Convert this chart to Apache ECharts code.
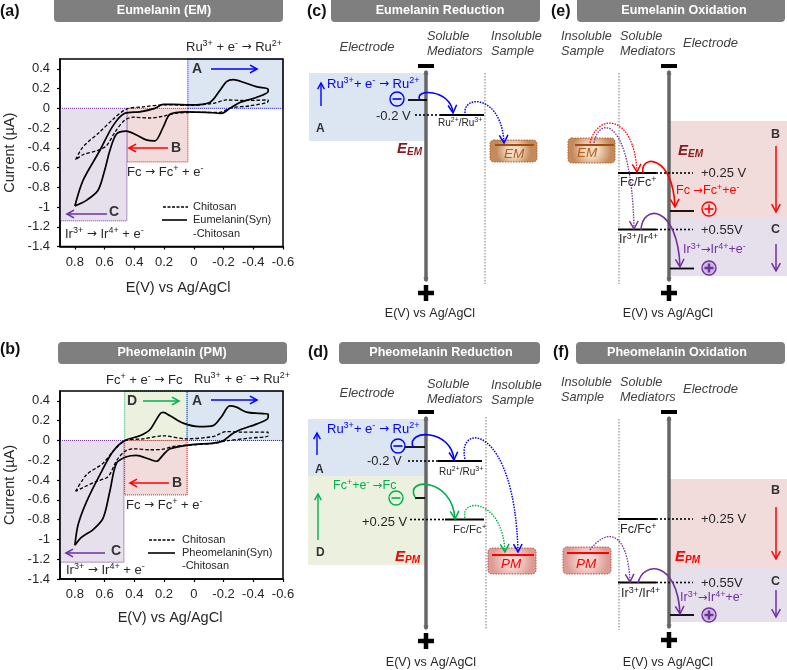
<!DOCTYPE html>
<html>
<head>
<meta charset="utf-8">
<style>html,body{margin:0;padding:0;background:#fff}#c{width:787px;height:670px}</style>
<script src="https://cdn.jsdelivr.net/npm/echarts@6/dist/echarts.min.js"></script>
</head>
<body>
<div id="c"></div>
<script>
// ---------- data: cyclic voltammograms, [E (V), current (uA)] ----------
const xTicks = [0.8, 0.6, 0.4, 0.2, 0, -0.2, -0.4, -0.6];
const yTicks = [0.4, 0.2, 0, -0.2, -0.4, -0.6, -0.8, -1, -1.2, -1.4];

const eumelaninSolid = [[.8,-.99],[.745,-.73],[.633,-.43],[.543,-.175],[.464,-.05],[.363,-.035],[.262,0],[.206,.04],[.14,.04],[.027,.035],[-.108,.06],[-.175,.18],[-.22,.27],[-.265,.29],[-.332,.265],[-.42,.22],[-.5,.195],[-.5,.17],[-.42,.11],[-.31,.06],[-.242,0],[-.186,-.05],[-.085,-.04],[.05,-.035],[.16,-.06],[.206,-.19],[.262,-.33],[.32,-.32],[.386,-.27],[.453,-.23],[.52,-.26],[.565,-.43],[.6,-.63],[.644,-.83],[.72,-.93],[.8,-.99]];
const eumelaninChitosan = [[.795,-.52],[.745,-.39],[.633,-.24],[.543,-.11],[.453,-.007],[.34,.015],[.206,.035],[.14,.035],[.027,.03],[-.13,.05],[-.22,.085],[-.33,.08],[-.5,.085],[-.5,.07],[-.377,.025],[-.265,.01],[-.22,-.015],[-.175,-.04],[-.04,-.04],[.117,-.05],[.206,-.08],[.296,-.098],[.408,-.09],[.464,-.118],[.53,-.24],[.588,-.38],[.655,-.43],[.745,-.47],[.795,-.52]];
const pheomelaninSolid = [[.8,-1.06],[.778,-.85],[.722,-.62],[.633,-.35],[.543,-.11],[.464,0],[.363,.047],[.296,.108],[.229,.266],[.206,.283],[.16,.25],[.072,.175],[-.04,.14],[-.13,.15],[-.186,.24],[-.242,.35],[-.287,.337],[-.354,.286],[-.444,.273],[-.5,.266],[-.5,.23],[-.42,.165],[-.33,.118],[-.265,.074],[-.197,-.003],[-.13,-.027],[.027,-.044],[.16,-.084],[.206,-.145],[.25,-.21],[.307,-.185],[.386,-.15],[.453,-.165],[.52,-.23],[.565,-.515],[.61,-.785],[.677,-.9],[.756,-.98],[.8,-1.06]];
const pheomelaninChitosan = [[.795,-.515],[.722,-.347],[.61,-.23],[.543,-.11],[.464,-.003],[.34,.017],[.206,.047],[.05,.017],[-.13,.04],[-.22,.09],[-.33,.084],[-.5,.084],[-.5,.047],[-.377,.024],[-.22,-.003],[-.15,-.027],[.005,-.044],[.14,-.06],[.206,-.088],[.296,-.094],[.408,-.084],[.464,-.11],[.52,-.205],[.576,-.364],[.655,-.414],[.745,-.475],[.795,-.515]];

// shaded potential windows: E range, current range
const regionsEM = [['A',.04,-.6,0,.5],['B',.45,.04,0,-.543],['C',.9,.45,0,-1.14]];
const regionsPM = [['D',.465,.045,0,.5],['A',.045,-.6,0,.5],['B',.465,.045,0,-.55],['C',.9,.47,0,-1.23]];

const BLUE='#0000ff',RED='#ff0000',PUR='#7030a0',GRN='#00b050',INK='#262626';
const regionColor={A:['#dce6f2',BLUE],B:['#f2dcdb',RED],C:['#e6e0ec',PUR],D:['#ebf1de',GRN]};
const FF='"Liberation Sans",Arial,sans-serif';

// ---------- schematic helpers ----------
const els=[];
function rich(str,size,color,opt){opt=opt||{};
  const w=opt.bold?'bold ':'',st=opt.italic?'italic ':'';
  const parts=str.split('^');let out='';
  parts.forEach((p,i)=>{
    if(!p)return;
    if(i%2){out+='{s|'+p+'}';return;}
    p.split('→').forEach((q,j)=>{if(j)out+='{a|→}';if(q)out+='{n|'+q+'}';});
  });
  const fs=opt.italic?'italic':'normal',fw=opt.bold?'bold':'normal';
  return {text:out,fill:color,font:st+w+size+'px '+FF,
    rich:{n:{fontSize:size,fontFamily:FF,fill:color,fontStyle:fs,fontWeight:fw,lineHeight:size+3},
          a:{fontSize:size-1,fontFamily:'"DejaVu Sans"',fill:color,lineHeight:size+3},
          s:{fontSize:Math.round(size*.68),fontFamily:FF,fill:color,fontStyle:fs,fontWeight:fw,verticalAlign:'top',lineHeight:Math.round(size*.75)}}};
}
function T(x,y,str,size,color,opt){opt=opt||{};
  const s=rich(str,size||13,color||INK,opt);
  s.x=x;s.y=y;s.textAlign=opt.align||'left';s.textVerticalAlign='middle';
  els.push({type:'text',silent:true,z:50,style:s});
}
function R(x1,y1,x2,y2,fill,r){
  els.push({type:'rect',silent:true,z:5,shape:{x:x1,y:y1,width:x2-x1,height:y2-y1,r:r||0},style:{fill:fill}});
}
function L(x1,y1,x2,y2,c,w,dash,z){
  els.push({type:'line',silent:true,z:z||20,shape:{x1,y1,x2,y2},style:{stroke:c,lineWidth:w||1.5,lineDash:dash||null}});
}
function head(x,y,dx,dy,c,w,size){
  const a=Math.atan2(dy,dx),s=size||8,t=.5;
  els.push({type:'polyline',silent:true,z:30,shape:{points:[[x-s*Math.cos(a-t),y-s*Math.sin(a-t)],[x,y],[x-s*Math.cos(a+t),y-s*Math.sin(a+t)]]},style:{fill:null,stroke:c,lineWidth:w||1.5}});
}
function A(x1,y1,x2,y2,c,w,size){L(x1,y1,x2,y2,c,w||1.5);head(x2,y2,x2-x1,y2-y1,c,w||1.5,size);}
function arc(x0,y0,px,py,xe,ye,c,w,dash){
  const cy=(py-(y0+ye)/8)/.75;
  const c2x=xe-(xe-x0)*.06,c1x=(px-(x0+xe)/8)/.375-c2x;
  els.push({type:'bezierCurve',silent:true,z:30,shape:{x1:x0,y1:y0,x2:xe,y2:ye,cpx1:c1x,cpy1:cy,cpx2:c2x,cpy2:cy},style:{fill:null,stroke:c,lineWidth:w||1.5,lineDash:dash||null}});
  head(xe,ye,xe-c2x,ye-cy,c,1.5,9);
}
function circ(x,y,c,sign,fill){
  els.push({type:'circle',silent:true,z:30,shape:{cx:x,cy:y,r:7},style:{fill:fill||'none',stroke:c,lineWidth:1.4}});
  L(x-4.5,y,x+4.5,y,c,sign==='+'&&fill?2.5:1.6,null,31);
  if(sign==='+')L(x,y-4.5,x,y+4.5,c,fill?2.5:1.6,null,31);
}
function title(x1,x2,y1,y2,str,tx,ty){
  R(x1,y1,x2,y2,'#7f7f7f',4);
  T(tx,ty,str,12.6,'#ffffff',{bold:true,align:'center'});
}
function rail(x,top,bot){
  L(x-8,top,x+8,top,'#000',4);
  L(x,top+5,x,bot,'#666666',3.5);
  head(x,top+5,0,-1,'#666666',1.5,4);head(x,bot,0,1,'#666666',1.5,4);
  L(x-8,bot+12,x+8,bot+12,'#000',4.5);L(x,bot+4,x,bot+20,'#000',4.5);
}
function dotV(x,y1,y2){L(x,y1,x,y2,'#777777',1,[1.5,1.5]);}
function dotH(x1,x2,y){L(x1,y,x2,y,'#000',1.6,[2,2]);}
function sample(x1,y1,x2,y2,lx1,lx2,ly,tx,ty,str,kind){
  const p=kind==='EM'?['#f3d9c1','#c58a5c','#a9622c','#9e4f14','#b0601f']:['#f6d3cf','#dd9b95','#b0544a',RED,RED];
  els.push({type:'rect',silent:true,z:6,shape:{x:x1,y:y1,width:x2-x1,height:y2-y1,r:4},
    style:{fill:{type:'radial',x:.5,y:.5,r:.75,colorStops:[{offset:.35,color:p[0]},{offset:1,color:p[1]}]},stroke:p[2],lineWidth:1,lineDash:[1.5,1.2]}});
  L(lx1,ly,lx2,ly,p[3],2);
  T(tx,ty,str,13.5,p[4],{italic:true,align:'center'});
}
function E(x,y,sub,c){
  T(x,y,'E',15,c,{bold:true,italic:true});
  T(x+10,y+3,sub,10,c,{bold:true,italic:true});
}
function heads(x,y,a,b){T(x,y,a,12.7,'#404040',{italic:true});T(x,y+15.5,b,12.7,'#404040',{italic:true});}
function frame(g){els.push({type:'rect',silent:true,z:4,shape:{x:g.left,y:g.top,width:g.width,height:g.height},style:{fill:null,stroke:'#000',lineWidth:1.5}});}

// ---------- panel (a) / (b) annotations ----------
T(0,12,'(a)',16,'#111',{bold:true});
title(54,283,-3,22,'Eumelanin (EM)',164,10.5);
T(186,47,'Ru^3+^ + e^-^ → Ru^2+^',13);
T(192,69,'A',14,'#333',{bold:true});A(211,69,257,69,BLUE,1.6);
T(171,148,'B',14,'#333',{bold:true});A(168,148,129,148,RED,1.6);
T(109,212,'C',14,'#333',{bold:true});A(107,214,67,214,PUR,1.6);
T(127,172,'Fc → Fc^+^ + e^-^',13);
T(65,234,'Ir^3+^ → Ir^4+^ + e^-^',13);
L(163,207,188,207,'#000',1.4,[3,1.5]);T(193,207,'Chitosan',11);
L(162,220,187,220,'#000',1.6);T(193,220,'Eumelanin(Syn)',11);T(193,234,'-Chitosan',11);

T(0,350,'(b)',16,'#111',{bold:true});
title(58,287,342,364,'Pheomelanin (PM)',172,353);
T(106,380,'Fc^+^ + e^-^ → Fc',13);
T(194,379,'Ru^3+^ + e^-^ → Ru^2+^',13);
T(127,401,'D',14,'#333',{bold:true});A(143,401,179,401,GRN,1.6);
T(192,401,'A',14,'#333',{bold:true});A(211,400,257,400,BLUE,1.6);
T(172,483,'B',14,'#333',{bold:true});A(169,483,130,483,RED,1.6);
T(111,551,'C',14,'#333',{bold:true});A(105,553,66,553,PUR,1.6);
T(126,505,'Fc → Fc^+^ + e^-^',13);
T(66,570,'Ir^3+^ → Ir^4+^ + e^-^',13);
L(149,540,175,540,'#000',1.4,[3,1.5]);T(182,540,'Chitosan',11);
L(148,553,175,553,'#000',1.6);T(182,553,'Pheomelanin(Syn)',11);T(182,566,'-Chitosan',11);

// ---------- panel (c) ----------
T(307,12,'(c)',16,'#111',{bold:true});
title(331,540,-3,22,'Eumelanin Reduction',440,10.5);
T(367,47,'Electrode',13,'#404040',{italic:true,align:'center'});
heads(427,36,'Soluble','Mediators');heads(491,36,'Insoluble','Sample');
R(309,73,426,141,'#dce6f2');
rail(426,66,281);dotV(485,73,284);
T(327,84,'Ru^3+^+ e^-^ → Ru^2+^',13,BLUE);A(321,106,321,83,BLUE,1.4,7);
T(316,129,'A',12,'#333',{bold:true});
circ(397,99,BLUE,'-');L(408,100,427,100,'#000',1.8);
T(376,116,'-0.2 V',13);dotH(415,440,115);L(440,115,484,115,'#000',2);
T(438,123,'Ru^2+^/Ru^3+^',10);
arc(420,100,433,93,453,113,BLUE,1.6);
arc(465,113,483,103,504,143,BLUE,1.5,[1.5,1.2]);
sample(490,140,537,162,495,534,145,514,154,'EM','EM');
E(397,149,'EM','#8b1a1a');
T(430,314,'E(V) vs Ag/AgCl',12.5,INK,{align:'center'});

// ---------- panel (e) ----------
T(551,12,'(e)',16,'#111',{bold:true});
title(577,785,-3,22,'Eumelanin Oxidation',684,10.5);
heads(561,36,'Insoluble','Sample');heads(620,36,'Soluble','Mediators');
T(683,43,'Electrode',13,'#404040',{italic:true});
R(670,121,787,217,'#f2dcdb');R(670,217,787,276,'#e6e0ec');
rail(669,66,281);dotV(619,73,284);
T(771,135,'B',12.5,'#333',{bold:true});A(776,146,776,212,RED,1.5,9);
T(771,230,'C',12.5,'#333',{bold:true});A(776,244,776,271,PUR,1.5,9);
E(678,151,'EM','#8b1a1a');
L(618,173,656,173,'#000',1.8);dotH(656,693,173);T(701,173,'+0.25 V',13);
T(620,183,'Fc/Fc^+^',12.5);
T(676,191,'Fc →Fc^+^+e^-^',12.5,RED);L(670,211,694,211,'#000',1.8);circ(709,209,RED,'+');
L(618,229.5,656,229.5,'#000',1.8);dotH(656,693,229.5);T(701,230,'+0.55V',13);
T(619,240,'Ir^3+^/Ir^4+^',12.5);
T(683,250,'Ir^3+^→Ir^4+^+e^-^',12.5,PUR);L(670,268.5,694,268.5,'#000',1.8);circ(709,268,PUR,'+','#cbbbdc');
sample(568,138,615,163,575,614,145,587,153,'EM','EM');
arc(590,143,615,124,637,172,RED,1.3,[1.5,1.2]);
arc(594,143,615,133,634,229,PUR,1.3,[1.5,1.2]);
arc(643,173,657,163,675,207,RED,1.6);
arc(641,230,660,215,680,267,PUR,1.6);
T(668,314,'E(V) vs Ag/AgCl',12.5,INK,{align:'center'});

// ---------- panel (d) ----------
T(308,353,'(d)',16,'#111',{bold:true});
title(339,540,342,364,'Pheomelanin Reduction',441,353);
T(367,393,'Electrode',13,'#404040',{italic:true,align:'center'});
heads(427,384,'Soluble','Mediators');heads(491,385,'Insoluble','Sample');
R(308,419,426,476,'#dce6f2');R(308,476,426,565,'#ebf1de');
rail(426,412,629);dotV(486,417,630);
T(327,429,'Ru^3+^+ e^-^ → Ru^2+^',13,BLUE);A(317,455,317,433,BLUE,1.4,7);
T(315,470,'A',12,'#333',{bold:true});
circ(398,446,BLUE,'-');L(405,447,425,447,'#000',1.8);
T(367,461,'-0.2 V',13);dotH(408,438,461);L(438,461,482,461,'#000',2);
T(439,472,'Ru^2+^/Ru^3+^',10);
arc(413,447,430,435,454,460,BLUE,1.6);
arc(465,459,487,443,518,552,BLUE,1.5,[1.5,1.2]);
T(333,486,'Fc^+^+e^-^ →Fc',12.5,GRN);A(318,540,318,494,GRN,1.4,7);
T(316,553,'D',12,'#333',{bold:true});
circ(396,498,GRN,'-');L(415,498,425,498,'#000',1.8);
T(362,522,'+0.25 V',13);dotH(410,445,519.5);L(445,519.5,484,519.5,'#000',2);
T(453,530,'Fc/Fc^+^',11.5);
arc(415,497,430,485,455,519,GRN,1.6);
arc(465,518,482,507,505,552,GRN,1.4,[1.5,1.2]);
E(395,557,'PM',RED);
sample(488,548,536,574,492,534,555,511,564,'PM','PM');
T(431,663,'E(V) vs Ag/AgCl',12.5,INK,{align:'center'});

// ---------- panel (f) ----------
T(553,353,'(f)',16,'#111',{bold:true});
title(576,785,342,364,'Pheomelanin Oxidation',677,353);
heads(561,382,'Insoluble','Sample');heads(620,382,'Soluble','Mediators');
T(683,389,'Electrode',13,'#404040',{italic:true});
R(670,479,787,568,'#f2dcdb');R(670,568,787,622,'#e6e0ec');
rail(669,412,628);dotV(619,419,630);
T(771,491,'B',12.5,'#333',{bold:true});A(776,507,776,559,RED,1.5,9);
T(771,582,'C',12.5,'#333',{bold:true});A(776,590,776,617,PUR,1.5,9);
L(618,519,656,519,'#000',1.8);dotH(656,693,519);T(701,519,'+0.25 V',13);
T(620,530,'Fc/Fc^+^',12.5);
E(675,557,'PM',RED);
L(618,582.5,656,582.5,'#000',1.8);dotH(656,693,582.5);T(701,583,'+0.55V',13);
T(621,594,'Ir^3+^/Ir^4+^',12.5);
T(680,598,'Ir^3+^→Ir^4+^+e^-^',12.5,PUR);L(670,615,694,615,'#000',1.8);circ(709,615,PUR,'+','#cbbbdc');
sample(563,547,611,574,567,609,553,586,564,'PM','PM');
arc(590,550,615,538,630,582,PUR,1.3,[1.5,1.2]);
arc(638,583,660,570,680,614,PUR,1.6);
T(668,663,'E(V) vs Ag/AgCl',12.5,INK,{align:'center'});

// ---------- ECharts option ----------
const grids=[{left:60,top:59,width:223,height:187.5},{left:60,top:391,width:223,height:188}];
grids.forEach(frame);
const fmt=v=>String(v);
function xAxis(i,shift,gap){return {type:'value',gridIndex:i,min:-.6,max:.9,inverse:true,
  axisLine:{onZero:false,lineStyle:{color:'#000',width:1.5}},
  axisTick:{customValues:xTicks,length:3,lineStyle:{color:'#000',width:1.2}},
  axisLabel:{customValues:xTicks,formatter:fmt,color:INK,fontSize:13,fontFamily:FF,margin:9},
  splitLine:{show:false},name:'E(V) vs Ag/AgCl',nameLocation:'middle',nameGap:gap,
  nameTextStyle:{color:INK,fontSize:14.5,fontFamily:FF,padding:[0,0,0,shift]}};}
function yAxis(i){return {type:'value',gridIndex:i,min:-1.4,max:.5,
  axisLine:{onZero:false,lineStyle:{color:'#000',width:1.5}},
  axisTick:{customValues:yTicks,length:3,lineStyle:{color:'#000',width:1.2}},
  axisLabel:{customValues:yTicks,formatter:fmt,color:INK,fontSize:13,fontFamily:FF,margin:10},
  splitLine:{show:false},name:'Current (µA)',nameLocation:'middle',nameGap:43,nameRotate:90,
  nameTextStyle:{color:INK,fontSize:14.5,fontFamily:FF}};}
function regionSeries(i,regs){return {type:'line',xAxisIndex:i,yAxisIndex:i,data:[],z:1,silent:true,
  markArea:{silent:true,data:regs.map(r=>[
    {xAxis:r[1],yAxis:r[3],itemStyle:{color:regionColor[r[0]][0],borderColor:regionColor[r[0]][1],borderWidth:1,borderType:'dotted',opacity:1}},
    {xAxis:r[2],yAxis:r[4]}])}};}
function curve(i,name,data,dashed){return {type:'line',name,xAxisIndex:i,yAxisIndex:i,data,z:3,smooth:.3,showSymbol:false,silent:true,
  lineStyle:{color:'#000',width:dashed?1.3:1.7,type:dashed?[3.5,2]:'solid'}};}

const chart=echarts.init(document.getElementById('c'),null,{renderer:'canvas'});
chart.setOption({
  animation:false,backgroundColor:'#fff',
  grid:grids.map(g=>Object.assign({show:false,containLabel:false},g)),
  xAxis:[xAxis(0,13,34),xAxis(1,-3,31)],
  yAxis:[yAxis(0),yAxis(1)],
  series:[
    regionSeries(0,regionsEM),regionSeries(1,regionsPM),
    curve(0,'Chitosan',eumelaninChitosan,true),curve(0,'Eumelanin(Syn)-Chitosan',eumelaninSolid,false),
    curve(1,'Chitosan',pheomelaninChitosan,true),curve(1,'Pheomelanin(Syn)-Chitosan',pheomelaninSolid,false)
  ],
  graphic:{elements:els}
});
</script>
</body>
</html>
